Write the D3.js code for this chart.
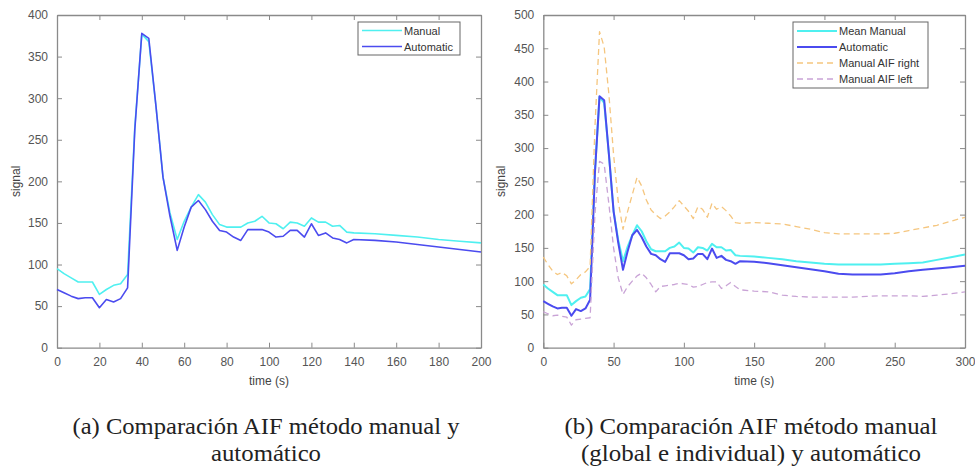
<!DOCTYPE html>
<html>
<head>
<meta charset="utf-8">
<script src="https://d3js.org/d3.v7.min.js"></script>
<style>
  body { margin: 0; background: #fff; }
  .tick text { font-family: "Liberation Sans", Arial, sans-serif; font-size: 12px; fill: #555; }
  .lab { font-family: "Liberation Sans", Arial, sans-serif; font-size: 12px; fill: #444; }
  .leg { font-family: "Liberation Sans", Arial, sans-serif; font-size: 11px; fill: #333; }
  .cap { font-family: "Times New Roman", "Liberation Serif", Times, serif; font-size: 23px; fill: #222; }
</style>
</head>
<body>
<div id="chart"></div>
<script>
// time points (s)
const timeSec = [0, 3.3, 6.7, 10, 13.3, 16.7, 20, 23.3, 26.7, 30, 33.3, 36.7, 40, 43.3, 46.7, 50,
  53.3, 56.7, 60, 63.3, 66.7, 70, 73.3, 76.7, 80, 83.3, 86.7, 90, 93.3, 96.7, 100, 103.3, 106.7,
  110, 113.3, 116.7, 120, 123.3, 126.7, 130, 133.3, 136.7, 140, 150, 160, 170, 180, 190, 200,
  210, 220, 230, 240, 250, 260, 270, 280, 290, 300];

// mean manual AIF
const manual = [95, 89, 84, 79, 79, 79, 64, 70, 75, 77, 88, 265, 377, 368, 290, 205,
  162, 130, 152, 169, 184, 175, 160, 148, 145, 145, 145, 150, 152, 158, 150, 149, 143,
  151, 150, 146, 156, 151, 151, 146, 147, 139, 138, 137, 135, 133, 130, 128, 126,
  125, 125, 125, 125, 126, 127, 128, 132, 136, 140];

// automatic AIF
const automatic = [70, 66, 62, 59, 60, 60, 48, 58, 55, 59, 72, 262, 378, 372, 290, 205,
  158, 117, 145, 169, 177, 166, 152, 141, 139, 133, 129, 142, 142, 142, 139, 133, 134,
  141, 141, 133, 149, 135, 138, 132, 130, 126, 130, 129, 127, 124, 121, 118, 115,
  111, 110, 110, 110, 112, 115, 117, 119, 121, 123];

// manual AIF, right side
const manualRight = [136, 125, 115, 110, 113, 108, 96, 102, 110, 114, 122, 330, 475, 452, 380, 290,
  220, 178, 205, 230, 256, 243, 222, 207, 200, 194, 198, 204, 212, 221, 213, 205, 194,
  212, 208, 196, 217, 208, 212, 206, 198, 188, 187, 188, 187, 186, 182, 178, 173,
  171, 171, 171, 171, 172, 176, 180, 184, 190, 196];

// manual AIF, left side
const manualLeft = [54, 51, 48, 49, 47, 46, 34, 42, 43, 44, 45, 200, 280, 276, 215, 150,
  105, 80, 92, 100, 108, 112, 105, 95, 84, 92, 93, 94, 95, 97, 96, 95, 91,
  92, 95, 98, 99, 99, 89, 93, 98, 92, 87, 85, 84, 79, 77, 76, 76,
  76, 76, 77, 78, 78, 78, 77, 79, 81, 84];

const ticksA_x = [0, 20, 40, 60, 80, 100, 120, 140, 160, 180, 200];
const ticksA_y = [0, 50, 100, 150, 200, 250, 300, 350, 400];
const ticksB_x = [0, 50, 100, 150, 200, 250, 300];
const ticksB_y = [0, 50, 100, 150, 200, 250, 300, 350, 400, 450, 500];

const captionA = ["(a) Comparación AIF método manual y", "automático"];
const captionB = ["(b) Comparación AIF método manual", "(global e individual) y automático"];

const W = 975, H = 466;
const svg = d3.select("#chart").append("svg").attr("width", W).attr("height", H);

function panel(opt) {
  const x = d3.scaleLinear().domain(opt.xDom).range([opt.x0, opt.x1]);
  const y = d3.scaleLinear().domain(opt.yDom).range([opt.y1, opt.y0]);
  const g = svg.append("g");

  // axes, MATLAB-like box with inward ticks
  const axCol = "#8a8a8a";
  const bottom = g.append("g").attr("transform", `translate(0,${opt.y1})`)
    .call(d3.axisBottom(x).tickValues(opt.xt).tickSizeInner(-5).tickSizeOuter(0).tickPadding(10));
  const top = g.append("g").attr("transform", `translate(0,${opt.y0})`)
    .call(d3.axisTop(x).tickValues(opt.xt).tickSizeInner(-5).tickSizeOuter(0).tickFormat(""));
  const left = g.append("g").attr("transform", `translate(${opt.x0},0)`)
    .call(d3.axisLeft(y).tickValues(opt.yt).tickSizeInner(-5).tickSizeOuter(0).tickPadding(9));
  const right = g.append("g").attr("transform", `translate(${opt.x1},0)`)
    .call(d3.axisRight(y).tickValues(opt.yt).tickSizeInner(-5).tickSizeOuter(0).tickFormat(""));
  [bottom, top, left, right].forEach(a => {
    a.select(".domain").attr("stroke", axCol).attr("stroke-width", 1.3);
    a.selectAll(".tick line").attr("stroke", axCol);
  });

  // series
  const line = d3.line().x(d => x(d[0])).y(d => y(d[1]));
  opt.series.forEach(s => {
    const pts = timeSec.map((t, i) => [t, s.values[i]]).filter(d => d[0] <= opt.xDom[1]);
    g.append("path").datum(pts)
      .attr("fill", "none")
      .attr("stroke", s.color)
      .attr("stroke-width", s.width)
      .attr("stroke-dasharray", s.dash || null)
      .attr("stroke-linejoin", "round")
      .attr("d", line);
  });

  // axis labels
  g.append("text").attr("class", "lab").attr("text-anchor", "middle")
    .attr("x", (opt.x0 + opt.x1) / 2).attr("y", 385).text("time (s)");
  g.append("text").attr("class", "lab").attr("text-anchor", "middle")
    .attr("transform", `translate(${opt.ylabX},${(opt.y0 + opt.y1) / 2}) rotate(-90)`)
    .text("signal");

  // legend
  const L = opt.legend;
  g.append("rect").attr("x", L.x).attr("y", L.y).attr("width", L.w).attr("height", L.h)
    .attr("fill", "#fff").attr("stroke", "#666").attr("stroke-width", 1);
  opt.series.forEach((s, i) => {
    const yy = L.y + L.first + i * L.step;
    g.append("line").attr("x1", L.x + 4).attr("x2", L.x + 4 + L.len)
      .attr("y1", yy).attr("y2", yy)
      .attr("stroke", s.color).attr("stroke-width", s.width)
      .attr("stroke-dasharray", s.dash || null);
    g.append("text").attr("class", "leg").attr("x", L.x + 6 + L.len).attr("y", yy + 4).text(s.name);
  });

  // caption
  opt.caption.forEach((c, i) => {
    g.append("text").attr("class", "cap").attr("text-anchor", "middle")
      .attr("x", opt.capX).attr("y", 434 + i * 27)
      .attr("textLength", opt.capW[i]).attr("lengthAdjust", "spacingAndGlyphs")
      .text(c);
  });
}

const cyan = "#4ff0f0", blue = "#4b4bef", orange = "#f5c67f", purple = "#c9a3d6";

panel({
  x0: 57, x1: 481, y0: 15, y1: 347.7, xDom: [0, 200], yDom: [0, 400],
  xt: ticksA_x, yt: ticksA_y, ylabX: 20,
  series: [
    { name: "Manual", values: manual, color: cyan, width: 1.6 },
    { name: "Automatic", values: automatic, color: blue, width: 1.6 }
  ],
  legend: { x: 358, y: 22, w: 102, h: 33, first: 8.5, step: 16, len: 40 },
  caption: captionA, capX: 266, capW: [387, 110]
});

panel({
  x0: 543.3, x1: 965, y0: 15, y1: 347.7, xDom: [0, 300], yDom: [0, 500],
  xt: ticksB_x, yt: ticksB_y, ylabX: 505,
  series: [
    { name: "Mean Manual", values: manual, color: cyan, width: 2 },
    { name: "Automatic", values: automatic, color: blue, width: 2 },
    { name: "Manual AIF right", values: manualRight, color: orange, width: 1.3, dash: "6,4" },
    { name: "Manual AIF left", values: manualLeft, color: purple, width: 1.3, dash: "6,4" }
  ],
  legend: { x: 793, y: 22, w: 135, h: 66, first: 9, step: 16, len: 40 },
  caption: captionB, capX: 751, capW: [373, 340]
});
</script>
</body>
</html>
